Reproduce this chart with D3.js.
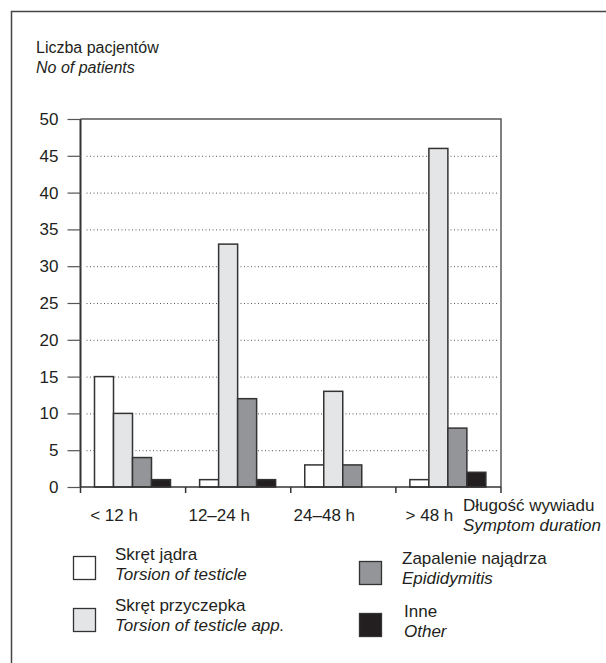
<!DOCTYPE html>
<html><head><meta charset="utf-8">
<script src="https://cdn.jsdelivr.net/npm/d3@7"></script>
<style>
html,body{margin:0;padding:0;background:#fff;}
svg{display:block;}
text{font-family:"Liberation Sans",Arial,sans-serif;fill:#231f20;}
</style></head>
<body>
<script>
const categories = ["< 12 h", "12–24 h", "24–48 h", "> 48 h"];
const seriesNames = ["Skręt jądra", "Skręt przyczepka", "Zapalenie najądrza", "Inne"];
const seriesNamesEn = ["Torsion of testicle", "Torsion of testicle app.", "Epididymitis", "Other"];
const torsionTesticle = [15, 1, 3, 1];
const torsionAppendix = [10, 33, 13, 46];
const epididymitis = [4, 12, 3, 8];
const other = [1, 1, 0, 2];
const yTicks = [0, 5, 10, 15, 20, 25, 30, 35, 40, 45, 50];
const colors = ["#ffffff", "#e4e5e7", "#939598", "#231f20"];

const seriesValues = [torsionTesticle, torsionAppendix, epididymitis, other];

const W = 606, H = 663;
const svg = d3.select("body").append("svg").attr("width", W).attr("height", H);

// outer frame (top & left visible)
svg.append("path").attr("d", `M11.5,${H+5} L11.5,11.5 L${W+5},11.5`)
  .attr("fill", "none").attr("stroke", "#444").attr("stroke-width", 1.5);

// title
svg.append("text").attr("x", 36).attr("y", 53).attr("font-size", 16).text("Liczba pacjentów");
svg.append("text").attr("x", 36).attr("y", 73).attr("font-size", 16).attr("font-style", "italic").text("No of patients");

const plotL = 80.5, plotR = 501, plotT = 119, plotB = 487;
const x = d3.scaleBand().domain(categories).range([plotL, plotR]).padding(0);
const xs = d3.scaleBand().domain(d3.range(4)).range([14, 14 + 76]).padding(0);
const y = d3.scaleLinear().domain([0, 50]).range([plotB, plotT]);

// grid lines
svg.append("g").selectAll("line").data(yTicks.filter(t => t > 0 && t < 50)).join("line")
  .attr("x1", plotL + 6).attr("x2", plotR - 2)
  .attr("y1", d => y(d) + 0.5).attr("y2", d => y(d) + 0.5)
  .attr("stroke", "#555").attr("stroke-width", 1).attr("stroke-dasharray", "1,2.5");

// top & right border
svg.append("path").attr("d", `M${plotL},${y(50)} L${plotR},${y(50)} L${plotR},${plotB}`)
  .attr("fill", "none").attr("stroke", "#555").attr("stroke-width", 1.5);

// bars
const groups = svg.append("g").selectAll("g").data(categories).join("g")
  .attr("transform", d => `translate(${x(d)},0)`);
groups.selectAll("rect").data((c, i) => seriesValues.map((s, k) => ({k, v: s[i]})))
  .join("rect")
  .filter(d => d.v > 0)
  .attr("x", d => xs(d.k)).attr("width", xs.bandwidth())
  .attr("y", d => y(d.v)).attr("height", d => y(0) - y(d.v))
  .attr("fill", d => colors[d.k]).attr("stroke", "#333").attr("stroke-width", 1.5);

// y axis
const yAxis = d3.axisLeft(y).tickValues(yTicks).tickSize(13).tickPadding(9);
const gy = svg.append("g").attr("transform", `translate(${plotL},0)`).call(yAxis);
gy.select(".domain").attr("stroke", "#333").attr("stroke-width", 2).attr("d", `M0,${plotT}V${plotB}`);
gy.selectAll(".tick line").attr("stroke", "#555").attr("stroke-width", 1.2);
gy.selectAll(".tick text").attr("font-size", 17).attr("font-family", "Liberation Sans, Arial, sans-serif").attr("fill", "#231f20");

// x axis
svg.append("line").attr("x1", plotL).attr("x2", plotR).attr("y1", plotB).attr("y2", plotB)
  .attr("stroke", "#333").attr("stroke-width", 1.5);
const bounds = categories.map(c => x(c)).concat([x.range()[1]]);
svg.append("g").selectAll("line").data(bounds).join("line")
  .attr("x1", d => d).attr("x2", d => d).attr("y1", plotB).attr("y2", plotB + 6)
  .attr("stroke", "#333").attr("stroke-width", 1.5);
svg.append("g").selectAll("text").data(categories).join("text")
  .attr("x", d => x(d) + x.bandwidth() / 2 - 19).attr("y", 521)
  .attr("text-anchor", "middle").attr("font-size", 17).text(d => d);

svg.append("text").attr("x", 463).attr("y", 511).attr("font-size", 17).text("Długość wywiadu");
svg.append("text").attr("x", 463).attr("y", 531).attr("font-size", 17).attr("font-style", "italic").text("Symptom duration");

// legend
const legendPos = [
  {sx: 73, sy: 556, tx: 115, ty: 560},
  {sx: 73, sy: 608, tx: 115, ty: 611},
  {sx: 359, sy: 561, tx: 402, ty: 564},
  {sx: 359, sy: 613, tx: 404, ty: 617}
];
const lg = svg.append("g").selectAll("g").data(seriesNames).join("g");
lg.append("rect").attr("x", (d, i) => legendPos[i].sx + 0.5).attr("y", (d, i) => legendPos[i].sy + 0.5)
  .attr("width", 22).attr("height", 23)
  .attr("fill", (d, i) => colors[i]).attr("stroke", "#333").attr("stroke-width", 1.3);
lg.append("text").attr("x", (d, i) => legendPos[i].tx).attr("y", (d, i) => legendPos[i].ty)
  .attr("font-size", 17).text(d => d);
lg.append("text").attr("x", (d, i) => legendPos[i].tx).attr("y", (d, i) => legendPos[i].ty + 20)
  .attr("font-size", 17).attr("font-style", "italic").text((d, i) => seriesNamesEn[i]);
</script>
</body></html>
